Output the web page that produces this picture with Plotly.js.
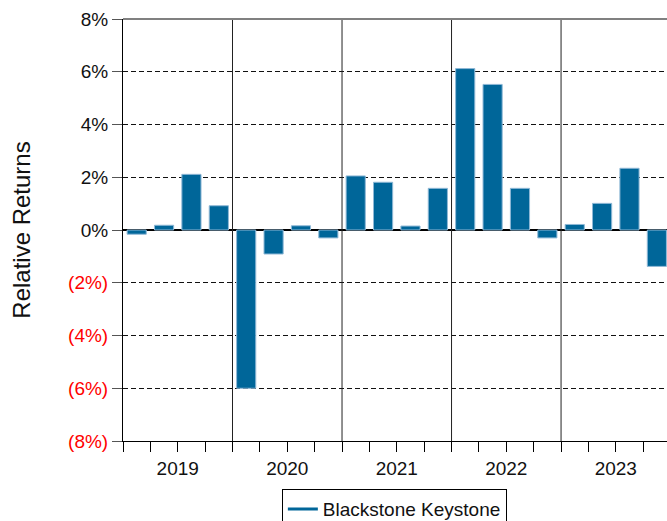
<!DOCTYPE html>
<html>
<head>
<meta charset="utf-8">
<script src="https://cdn.plot.ly/plotly-3.0.1.min.js"></script>
<style>html,body{margin:0;padding:0;background:#fff;overflow:hidden}#chart{width:667px;height:521px}</style>
</head>
<body>
<div id="chart"></div>
<script>
const years = ["2019", "2020", "2021", "2022", "2023"];
const quarters = ["Q1", "Q2", "Q3", "Q4"];
const seriesName = "Blackstone Keystone";
// relative returns in percent, per quarter
const returns2019 = [-0.16, 0.18, 2.11, 0.92];
const returns2020 = [-6.0, -0.91, 0.16, -0.30];
const returns2021 = [2.05, 1.81, 0.15, 1.58];
const returns2022 = [6.12, 5.52, 1.58, -0.30];
const returns2023 = [0.21, 1.01, 2.34, -1.38];
const yTickValues = [8, 6, 4, 2, 0, -2, -4, -6, -8];

const allReturns = [].concat(returns2019, returns2020, returns2021, returns2022, returns2023);
const xIdx = allReturns.map((_, i) => i);
const nQ = quarters.length;

// x ticks at every quarter boundary; year labels at mid-year boundary
const tickvals = [], ticktext = [];
for (let i = 0; i <= allReturns.length; i++) {
  tickvals.push(i - 0.5);
  const yi = (i - nQ / 2) / nQ;
  ticktext.push(i % nQ === nQ / 2 && years[yi] !== undefined ? years[yi] : "");
}
const yLabel = v => v < 0 ? `<span style="color:#ff0000">(${-v}%)</span>` : `${v}%`;

const shapes = [];
for (let k = 1; k < years.length; k++) {
  shapes.push({type: "line", xref: "x", yref: "paper", x0: k * nQ - 0.5, x1: k * nQ - 0.5, y0: 0, y1: 1,
    line: {color: "#222", width: 1}, layer: "above"});
}
shapes.push({type: "line", xref: "paper", yref: "paper", x0: 0, x1: 1, y0: 1, y1: 1,
  line: {color: "#808080", width: 2}, layer: "above"});

const data = [
  {type: "bar", x: xIdx, y: allReturns, showlegend: false,
   marker: {color: "#006699", line: {color: "#8fb8d6", width: 1}}},
  {type: "scatter", mode: "lines", x: [null], y: [null], name: seriesName,
   line: {color: "#006699", width: 3}}
];

const layout = {
  width: 667, height: 521,
  margin: {l: 123, r: 0, t: 19, b: 80, autoexpand: false},
  paper_bgcolor: "#fff", plot_bgcolor: "#fff",
  font: {family: "Liberation Sans, Arial, sans-serif", color: "#000", size: 19},
  bargap: 0.3,
  xaxis: {range: [-0.5, 19.37], tickmode: "array", tickvals: tickvals, ticktext: ticktext,
    ticks: "outside", ticklen: 10, tickcolor: "#000", tickwidth: 1,
    showline: true, linecolor: "#000", linewidth: 1, showgrid: false, zeroline: false,
    automargin: false, tickfont: {size: 19, color: "#111"}},
  yaxis: {range: [-8, 8], tickmode: "array", tickvals: yTickValues, ticktext: yTickValues.map(yLabel),
    ticks: "outside", ticklen: 10, tickcolor: "#555", tickwidth: 1,
    showline: true, linecolor: "#000", linewidth: 1,
    showgrid: true, gridcolor: "#111", griddash: "5px,3px", gridwidth: 1,
    zeroline: true, zerolinecolor: "#000", zerolinewidth: 2,
    automargin: false, tickfont: {size: 19, color: "#111"},
    title: {text: "Relative Returns", font: {size: 24, color: "#111"}, standoff: 30}},
  shapes: shapes,
  showlegend: true,
  legend: {x: 0.292, y: -0.114, xanchor: "left", yanchor: "top", orientation: "h",
    bordercolor: "#000", borderwidth: 1, font: {size: 19, color: "#111"}, bgcolor: "#fff"}
};

Plotly.newPlot("chart", data, layout, {displayModeBar: false, staticPlot: true});
</script>
</body>
</html>
